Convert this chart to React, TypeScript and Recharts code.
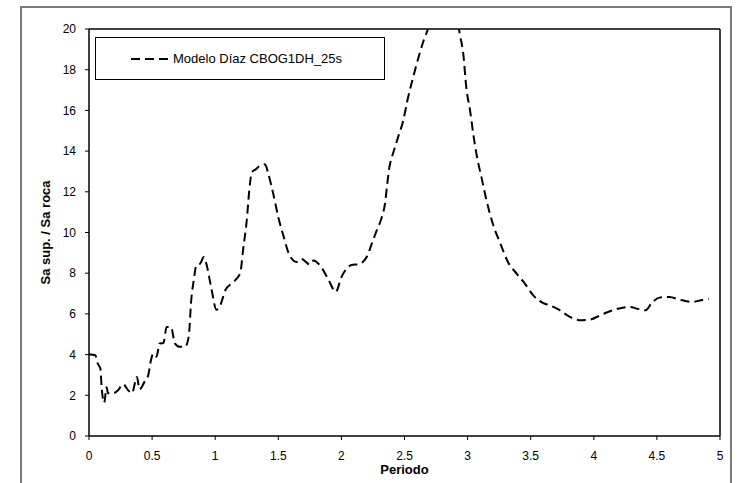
import { LineChart, Line, XAxis, YAxis, ReferenceLine } from 'recharts';

// periodo (s) y razón espectral
const periods = [
  0, 0.05, 0.07, 0.09, 0.1, 0.12, 0.14, 0.15, 0.19, 0.23, 0.27, 0.31, 0.34, 0.38, 0.4, 0.44, 0.47, 0.49, 0.51, 0.535,
  0.56, 0.59, 0.615, 0.65, 0.68, 0.72, 0.76, 0.79, 0.81, 0.83, 0.85, 0.88, 0.91, 0.93, 0.97, 1.01, 1.04, 1.08, 1.13,
  1.17, 1.2, 1.22, 1.25, 1.27, 1.29, 1.32, 1.355, 1.395, 1.42, 1.46, 1.5, 1.54, 1.59, 1.646, 1.685, 1.75, 1.78, 1.84,
  1.9, 1.955, 2.0, 2.04, 2.09, 2.13, 2.2, 2.24, 2.28, 2.32, 2.345, 2.36, 2.38, 2.4, 2.42, 2.45, 2.49, 2.52, 2.58, 2.65,
  2.68, 2.75, 2.82, 2.88, 2.94, 2.966, 2.99, 3.02, 3.045, 3.07, 3.11, 3.15, 3.2, 3.26, 3.32, 3.39, 3.455, 3.52, 3.6,
  3.65, 3.73, 3.81, 3.9, 3.97, 4.05, 4.15, 4.29, 4.34, 4.41, 4.46, 4.52, 4.6, 4.68, 4.78, 4.85, 4.91,
];
const ratios = [
  4.02, 3.97, 3.55, 3.3, 2.4, 1.63, 2.4, 2.1, 2.1, 2.25, 2.55, 2.25, 2.1, 2.9, 2.3, 2.66, 3.0, 3.7, 4.05, 3.9,
  4.55, 4.57, 5.36, 5.36, 4.55, 4.38, 4.38, 4.87, 6.67, 7.65, 8.38, 8.46, 8.79, 8.46, 7.24, 6.2, 6.42, 7.16, 7.5,
  7.73, 8.05, 9.1, 10.6, 12.06, 12.96, 13.1, 13.28, 13.35, 12.9, 11.9, 10.75, 9.85, 8.87, 8.55, 8.7, 8.43, 8.63, 8.3,
  7.65, 7.08, 7.8, 8.22, 8.42, 8.43, 8.79, 9.44, 10.1, 10.75, 11.4, 12.2, 13.2, 13.7, 14.1, 14.7, 15.5, 16.4, 17.9, 19.4,
  19.9, 21.3, 22.2, 21.5, 19.7, 18.76, 17.1, 15.98, 14.84, 13.86, 12.71, 11.57, 10.43, 9.45, 8.55, 7.97, 7.48, 6.91, 6.53,
  6.42, 6.18, 5.85, 5.69, 5.72, 5.93, 6.18, 6.34, 6.26, 6.18, 6.54, 6.8, 6.83, 6.7, 6.59, 6.67, 6.75,
];
const xTicks = [0, 0.5, 1, 1.5, 2, 2.5, 3, 3.5, 4, 4.5, 5];
const yTicks = [0, 2, 4, 6, 8, 10, 12, 14, 16, 18, 20];
const seriesName = 'Modelo Díaz CBOG1DH_25s';

const data = periods.map((p, i) => ({ periodo: p, ratio: ratios[i] }));

const font = 'Arial, "Liberation Sans", sans-serif';
const tickStyle = { fontSize: 12, fill: '#000', fontFamily: font };

function LegendBox() {
  return (
    <div
      style={{
        position: 'absolute',
        left: 95,
        top: 37,
        width: 290,
        height: 43,
        boxSizing: 'border-box',
        border: '1px solid #000',
        background: '#fff',
        display: 'flex',
        alignItems: 'center',
        fontFamily: font,
        fontSize: 13,
        color: '#000',
      }}
    >
      <svg width={40} height={10} style={{ marginLeft: 35, marginRight: 2 }}>
        <line x1={0} y1={5} x2={40} y2={5} stroke="#000" strokeWidth={2} strokeDasharray="9 5" />
      </svg>
      <span>{seriesName}</span>
    </div>
  );
}

export default function App() {
  return (
    <div style={{ position: 'absolute', left: 0, top: 0, width: 738, height: 483, background: '#fff' }}>
      <div
        style={{
          position: 'absolute',
          left: 20,
          top: 6,
          width: 712,
          height: 490,
          border: '2px solid #7a7a7a',
          boxSizing: 'border-box',
        }}
      />
      <LineChart width={738} height={483} data={data} margin={{ top: 29, right: 18, bottom: 17, left: 29 }}>
        <XAxis
          dataKey="periodo"
          type="number"
          domain={[0, 5]}
          ticks={xTicks}
          interval={0}
          height={30}
          tickSize={4}
          tickMargin={11}
          tick={tickStyle}
          axisLine={{ stroke: '#000', strokeWidth: 1.5 }}
          tickLine={{ stroke: '#000' }}
          label={{
            value: 'Periodo',
            position: 'insideBottom',
            offset: -8,
            style: { fontSize: 13, fontWeight: 'bold', fill: '#000', fontFamily: font },
          }}
        />
        <YAxis
          type="number"
          domain={[0, 20]}
          allowDataOverflow
          ticks={yTicks}
          interval={0}
          width={60}
          tickSize={4}
          tickMargin={9}
          tick={tickStyle}
          axisLine={{ stroke: '#000', strokeWidth: 1.5 }}
          tickLine={{ stroke: '#000' }}
          label={{
            value: 'Sa sup. / Sa roca',
            angle: -90,
            position: 'insideLeft',
            offset: 16,
            style: { fontSize: 13, fontWeight: 'bold', fill: '#000', fontFamily: font, textAnchor: 'middle' },
          }}
        />
        <ReferenceLine y={20} stroke="#000" strokeWidth={1.5} />
        <ReferenceLine x={5} stroke="#000" strokeWidth={1.5} />
        <Line
          type="monotone"
          dataKey="ratio"
          name={seriesName}
          stroke="#000"
          strokeWidth={2}
          strokeDasharray="9 5"
          dot={false}
          activeDot={false}
          isAnimationActive={false}
        />
      </LineChart>
      <LegendBox />
    </div>
  );
}
